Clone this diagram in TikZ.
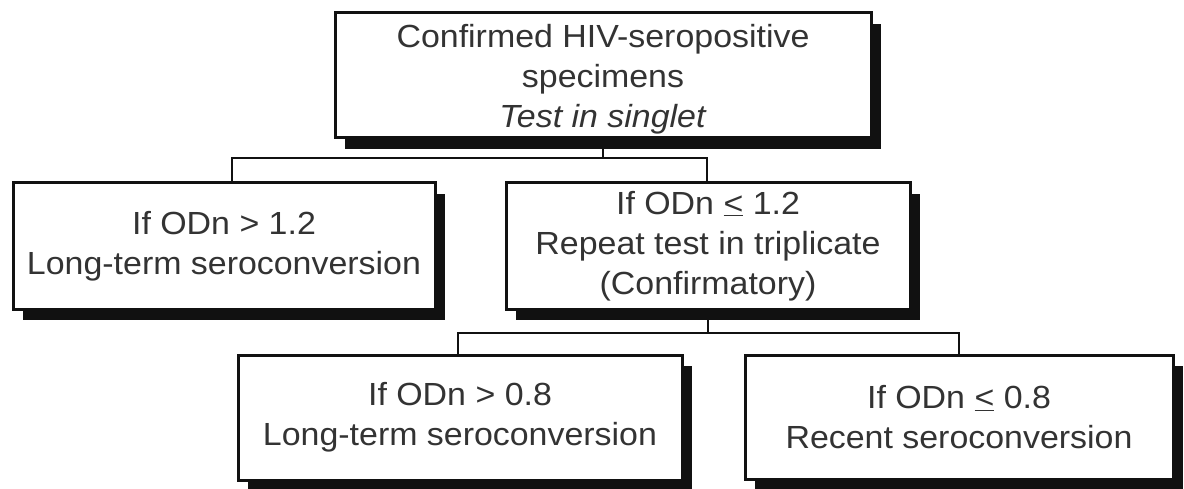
\documentclass[tikz,border=0pt]{standalone}
\usepackage{fontspec}
\setmainfont[FakeStretch=1.06]{Liberation Sans}
\usetikzlibrary{shadows,backgrounds}
\definecolor{txt}{HTML}{333333}
\definecolor{ink}{HTML}{111111}
\tikzset{
  flowbox/.style={draw=ink, line width=3pt, fill=white, inner sep=0pt,
    align=center, text=txt,
    font=\fontsize{32}{40}\selectfont,
    drop shadow={shadow xshift=10pt, shadow yshift=-11pt, fill=ink, opacity=1}},
  conn/.style={draw=ink, line width=2.2pt}
}
\begin{document}
\begin{tikzpicture}[x=1pt,y=-1pt]
\useasboundingbox (0,0) rectangle (1184,489);
\node[flowbox, minimum width=536pt, minimum height=125pt] (top) at (603,75.5)
  {\rule{0pt}{30pt}Confirmed HIV-seropositive\\specimens\\\textit{Test in singlet}};
\node[flowbox, minimum width=422pt, minimum height=126pt] (left) at (224,246)
  {If ODn > 1.2\\Long-term seroconversion};
\node[flowbox, minimum width=404pt, minimum height=126pt] (mid) at (708,246)
  {If ODn \underline{<} 1.2\\Repeat test in triplicate\\(Confirmatory)};
\node[flowbox, minimum width=444pt, minimum height=125pt] (bl) at (460,417.5)
  {If ODn > 0.8\\Long-term seroconversion};
\node[flowbox, minimum width=428pt, minimum height=124pt] (br) at (959,417)
  {If ODn \underline{<} 0.8\\Recent seroconversion};
\begin{scope}[on background layer]
\coordinate (jL) at (232,158);
\coordinate (jR) at (707,158);
\coordinate (kL) at (458,333);
\coordinate (kR) at (959,333);
\draw[conn] (top.south) -- (top.south |- jL);
\draw[conn] (jL |- left.north) -- (jL) -- (jR) -- (jR |- mid.north);
\draw[conn] (mid.south) -- (mid.south |- kL);
\draw[conn] (kL |- bl.north) -- (kL) -- (kR) -- (kR |- br.north);
\end{scope}
\end{tikzpicture}
\end{document}
